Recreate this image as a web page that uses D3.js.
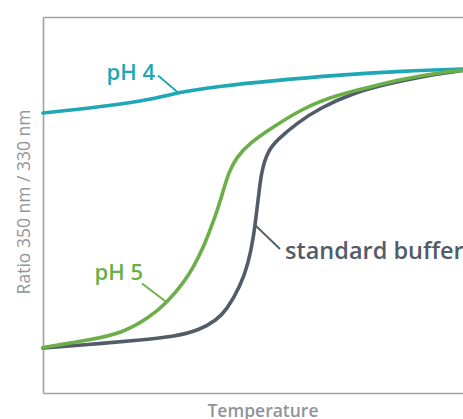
<!DOCTYPE html>
<html><head><meta charset="utf-8">
<script src="https://cdn.jsdelivr.net/npm/d3@7"></script>
<style>
html,body{margin:0;padding:0;background:#fff;}
svg{display:block;font-family:"Open Sans",sans-serif;}
</style></head>
<body><svg id="c" width="463" height="419"></svg>
<script>
// Temperature (arbitrary units) and fluorescence ratio 350/330 nm
const tempPH4 = [20, 31.4, 41.4, 47.4, 55.4, 65.4, 78.8, 92, 104, 108];
const ratioPH4 = [0.880, 0.886, 0.893, 0.901, 0.907, 0.912, 0.918, 0.922, 0.924, 0.9245];

const tempPH5 = [20, 29.4, 36, 41.4, 44.7, 48.1, 50.1, 52.1, 53.4, 54.7, 56.1, 57.1, 58.7, 61.4, 65.1, 72, 78.8, 85.4, 92, 98.8, 104, 108];
const ratioPH5 = [0.6455, 0.653, 0.660, 0.676, 0.690, 0.710, 0.726, 0.746, 0.763, 0.780, 0.803, 0.820, 0.836, 0.850, 0.863, 0.885, 0.898, 0.906, 0.914, 0.920, 0.923, 0.924];

const tempStd = [20, 32.8, 39.4, 46, 51.4, 54.7, 56.7, 59.4, 61.1, 62.1, 62.6, 63.1, 63.7, 65.1, 66.8, 70.8, 75.4, 82, 88.8, 95.4, 104, 108];
const ratioStd = [0.645, 0.650, 0.653, 0.656, 0.663, 0.673, 0.683, 0.706, 0.730, 0.756, 0.776, 0.796, 0.823, 0.843, 0.853, 0.870, 0.885, 0.900, 0.909, 0.916, 0.923, 0.924];

const seriesNames = ["pH 4", "pH 5", "standard buffer"];
const labelAnchorTemp = [47, 44.8, 62.4];

const xTitle = "Temperature";
const yTitle = "Ratio 350 nm / 330 nm";

const colors = ["#1fa7b6", "#6aaf48", "#525c69"];
const axisColor = "#9ea2a8";
const titleColor = "#8f949b";

const svg = d3.select("#c");
const x = d3.scaleLinear().domain([20, 108]).range([43, 483]);
const y = d3.scaleLinear().domain([0.6, 0.976]).range([393, 17]);

// frame
const frame = svg.append("g");
frame.append("g").attr("transform", `translate(0,${y.range()[0]})`)
  .call(d3.axisBottom(x).ticks(0).tickSizeOuter(0));
frame.append("g").attr("transform", `translate(0,${y.range()[1]})`)
  .call(d3.axisTop(x).ticks(0).tickSizeOuter(0));
frame.append("g").attr("transform", `translate(${x.range()[0]},0)`)
  .call(d3.axisLeft(y).ticks(0).tickSizeOuter(0));
frame.append("g").attr("transform", `translate(${x.range()[1]},0)`)
  .call(d3.axisRight(y).ticks(0).tickSizeOuter(0));
frame.selectAll(".domain").attr("stroke", axisColor).attr("stroke-width", 1.6);

const series = [
  {name: seriesNames[0], t: tempPH4, r: ratioPH4},
  {name: seriesNames[1], t: tempPH5, r: ratioPH5},
  {name: seriesNames[2], t: tempStd, r: ratioStd}
];

const line = d3.line().x(d => x(d[0])).y(d => y(d[1])).curve(d3.curveBasis);

const drawOrder = [0, 2, 1];
drawOrder.forEach(i => {
  const s = series[i];
  const pts = s.t.map((t, k) => [t, s.r[k]]);
  svg.append("path").datum(pts)
    .attr("fill", "none").attr("stroke", colors[i])
    .attr("stroke-width", 3.6).attr("stroke-linecap", "round")
    .attr("d", line);
});

function interp(s, t) {
  return d3.scaleLinear().domain(s.t).range(s.r)(t);
}

// annotation geometry (leader offsets in px)
const leaders = [
  {dx: -20, dy: -17, anchor: "end", tx: -3, ty: 4, fs: 22},
  {dx: -25, dy: -19, anchor: "end", tx: 1, ty: -3, fs: 22},
  {dx: 25, dy: 24, anchor: "start", tx: 5, ty: 10, fs: 23.5}
];
series.forEach((s, i) => {
  const ax = x(labelAnchorTemp[i]);
  const ay = y(interp(s, labelAnchorTemp[i]));
  const L = leaders[i];
  svg.append("line")
    .attr("x1", ax).attr("y1", ay)
    .attr("x2", ax + L.dx).attr("y2", ay + L.dy)
    .attr("stroke", colors[i]).attr("stroke-width", 1.8);
  svg.append("text")
    .attr("x", ax + L.dx + L.tx).attr("y", ay + L.dy + L.ty)
    .attr("text-anchor", L.anchor)
    .attr("fill", colors[i])
    .attr("font-size", L.fs).attr("font-weight", 600)
    .text(s.name);
});

svg.append("text")
  .attr("x", (x.range()[0] + x.range()[1]) / 2).attr("y", 417)
  .attr("text-anchor", "middle").attr("fill", titleColor)
  .attr("font-size", 17.5).attr("font-weight", 600)
  .text(xTitle);

svg.append("text")
  .attr("transform", `translate(30,${(y.range()[0] + y.range()[1]) / 2 - 3}) rotate(-90)`)
  .attr("text-anchor", "middle").attr("fill", titleColor)
  .attr("font-size", 17.5).attr("font-weight", 500)
  .text(yTitle);
</script>
</body></html>
